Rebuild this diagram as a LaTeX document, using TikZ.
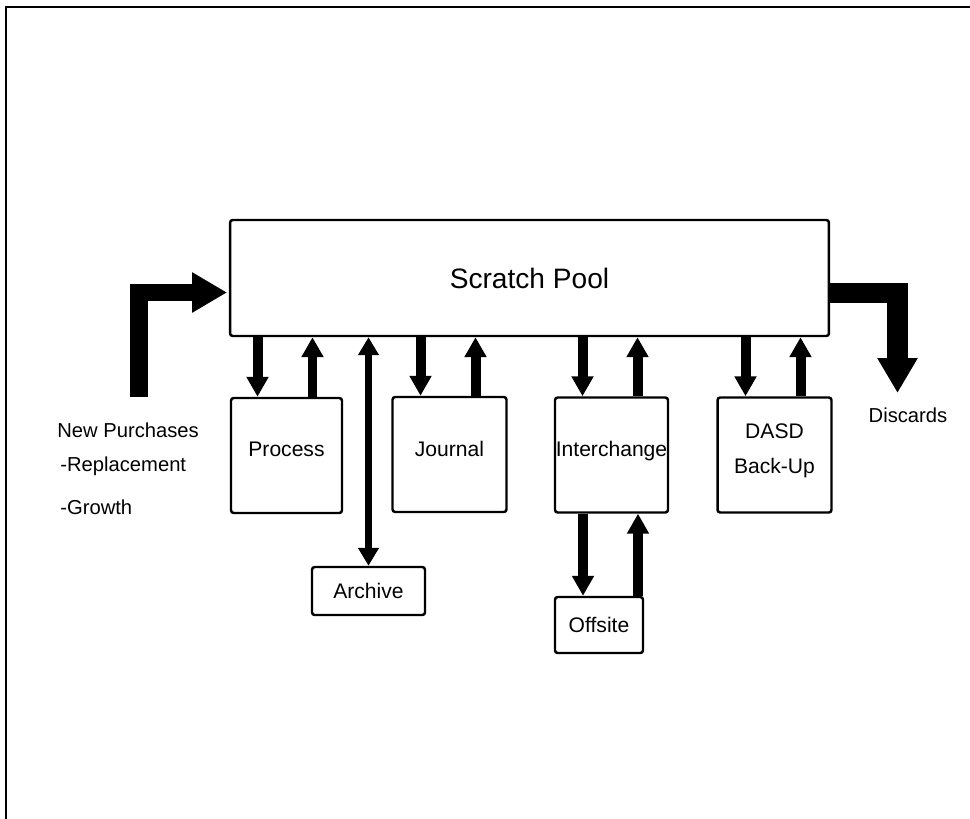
\documentclass[tikz,border=0pt]{standalone}
\usepackage{fontspec}
\setmainfont{Liberation Sans}
\usetikzlibrary{arrows.meta, positioning, calc}

\begin{document}
\begin{tikzpicture}[
	x=0.02cm, y=-0.02cm,
	box/.style={rectangle, draw, line width=1.4pt, rounded corners=1.5pt, minimum width=2.28cm, minimum height=2.3cm, align=center, inner sep=0pt, text depth=0.24cm, font=\fontsize{12}{20}\selectfont},
	smallbox/.style={box, minimum height=1cm, text depth=0pt},
	label/.style={font=\fontsize{11.5}{14}\selectfont, inner sep=0pt},
	flow/.style={line width=0.2cm, -{Triangle[width=0.42cm, length=0.4cm]}},
	both/.style={line width=0.14cm, {Triangle[width=0.4cm, length=0.36cm]}-{Triangle[width=0.4cm, length=0.36cm]}},
	big/.style={line width=0.36cm, line join=miter, -{Triangle[width=0.76cm, length=0.7cm]}},
	]
	\useasboundingbox (0,0) rectangle (970,818);
	\draw[line width=1.4pt] (6,830) -- (6,7) -- (980,7);

	\node[box, minimum width=11.98cm, minimum height=2.32cm, text depth=0pt, font=\fontsize{16}{18}\selectfont] (pool) at (529.5,278) {Scratch Pool};

	\node[box, minimum width=2.22cm] (process) at (286.5,455.5) {Process};
	\node[box] (journal) at (449.5,454.5) {Journal};
	\node[box, minimum width=2.26cm] (interchange) at (611.5,455) {Interchange};
	\node[box] (dasd) at (774.5,455) {DASD\\Back-Up};
	\node[smallbox, minimum width=2.26cm, minimum height=0.96cm] (archive) at (368.5,591) {Archive};
	\node[smallbox, minimum width=1.76cm, minimum height=1.12cm] (offsite) at (599,625) {Offsite};

	\foreach \b in {process,journal,interchange,dasd} {
		\coordinate (\b-in) at ([xshift=-0.58cm]\b.north);
		\coordinate (\b-out) at ([xshift=0.52cm]\b.north);
		\draw[flow] (pool.south -| \b-in) -- (\b-in);
		\draw[flow] (\b-out) -- (\b-out |- pool.south);
	}
	\draw[both] (archive.north) -- (archive.north |- pool.south);

	\coordinate (ic-down) at ([xshift=-0.57cm]interchange.south);
	\coordinate (ic-up) at ([xshift=0.53cm]interchange.south);
	\draw[flow] (ic-down) -- (ic-down |- offsite.north);
	\draw[flow] (ic-up |- offsite.north) -- (ic-up);

	\coordinate (buy) at (138.5,397);
	\draw[big, shorten >=1pt] (buy) |- ([yshift=-0.29cm]pool.west);
	\node[label, anchor=west] (newp) at (57,430) {New Purchases};
	\node[label, anchor=west] (repl) at (60,466) {-Replacement};
	\node[label, anchor=west] (grow) at (60,507) {-Growth};

	\coordinate (drop) at (897.5,393);
	\draw[big, line width=0.42cm] ([yshift=-0.3cm]pool.east) -| (drop);
	\node[label] (disc) at (908,415) {Discards};
\end{tikzpicture}
\end{document}
